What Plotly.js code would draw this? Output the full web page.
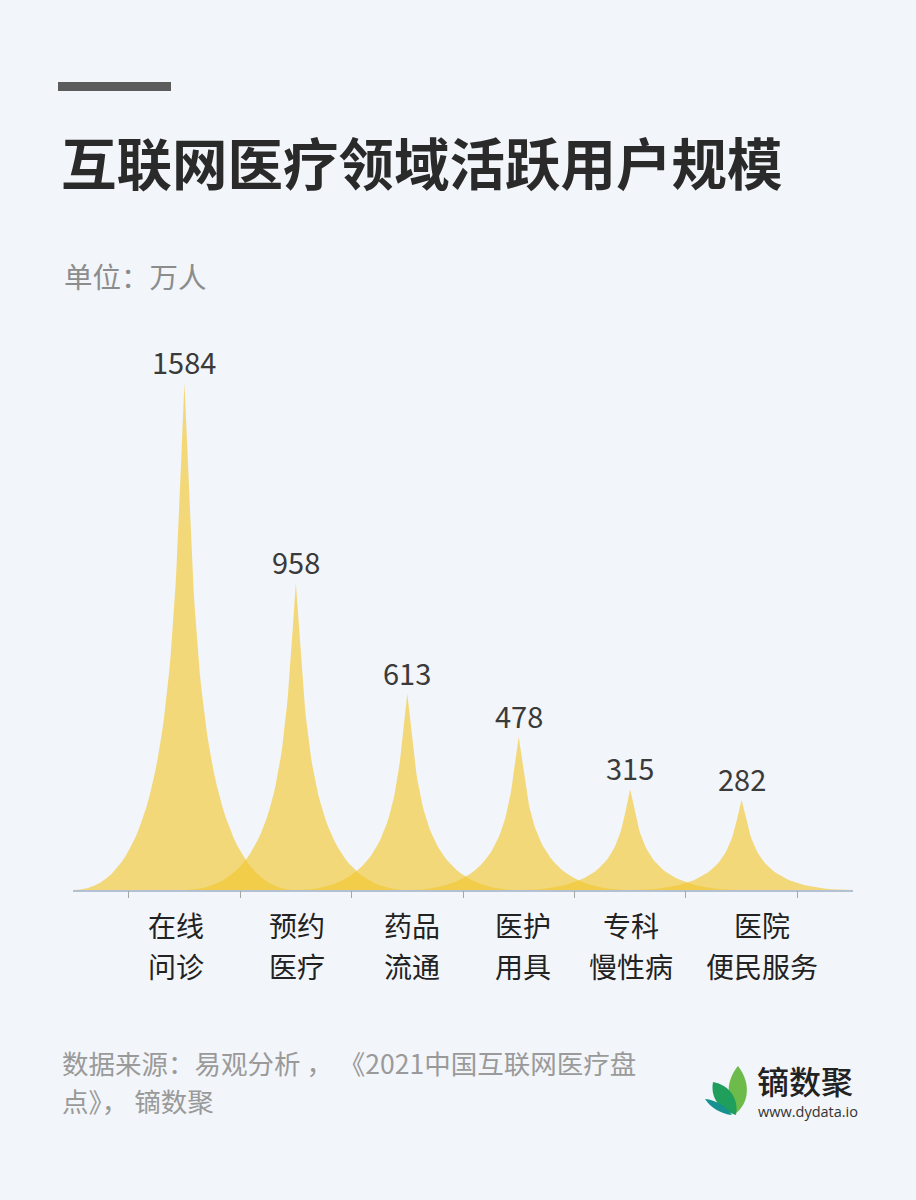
<!DOCTYPE html>
<html>
<head>
<meta charset="utf-8">
<script src="https://cdn.plot.ly/plotly-3.0.1.min.js"></script>
<style>
html,body{margin:0;padding:0;background:#F2F5F9;}
#chart{width:916px;height:1200px;}
</style>
</head>
<body>
<div id="chart"></div>
<script>
// ---- data ----
const categories = ["在线问诊", "预约医疗", "药品流通", "医护用具", "专科慢性病", "医院便民服务"];
const labelLine1 = ["在线", "预约", "药品", "医护", "专科", "医院"];
const labelLine2 = ["问诊", "医疗", "流通", "用具", "慢性病", "便民服务"];
const users = [1584, 958, 613, 478, 315, 282];

const titleText = "互联网医疗领域活跃用户规模";
const unitText = "单位：万人";
const sourceLine1 = "数据来源：易观分析 ， 《2021中国互联网医疗盘";
const sourceLine2 = "点》， 镝数聚";

// ---- layout geometry ----
const W = 916, H = 1200;
const M = {l: 73, r: 63, t: 345, b: 310};
const PW = W - M.l - M.r, PH = H - M.t - M.b;
function px(x){ return (x - M.l) / PW; }
function py(y){ return (H - M.b - y) / PH; }

const FONT = '"Noto Sans CJK SC", "Noto Sans", sans-serif';
const FILL = 'rgba(243,198,48,0.64)';
const labelNudge = [-8, 1, 5, 4, 1, 20];   // horizontal pixel nudge of category labels

// spike shape: cubic bezier (ECharts-style spike), half width = 1 category
function spike(center, value){
  const n = 40, half = 1.0;
  const xs = [], ys = [];
  const pts = [];
  for (let i = 0; i <= n; i++){
    const t = i / n;
    const xn = 2.7 * t * (1 - t) + t * t * t;
    const yn = Math.pow(1 - t, 3) + 3 * Math.pow(1 - t, 2) * t + 1.5 * (1 - t) * t * t;
    pts.push([1 - xn, 1 - yn]);
  }
  for (let i = 0; i <= n; i++){ xs.push(center - half * pts[i][0]); ys.push(value * pts[i][1]); }
  for (let i = n; i >= 0; i--){ xs.push(center + half * pts[i][0]); ys.push(value * pts[i][1]); }
  return {xs, ys};
}

const traces = users.map((v, i) => {
  const s = spike(i, v);
  return {
    type: 'scatter', mode: 'lines', x: s.xs, y: s.ys,
    fill: 'toself', fillcolor: FILL, line: {width: 0, color: FILL},
    hoverinfo: 'skip', showlegend: false, name: categories[i]
  };
});

traces.push({type:'scatter', x:[0], y:[0], xaxis:'x2', yaxis:'y', mode:'markers',
  marker:{opacity:0}, showlegend:false, hoverinfo:'skip'});

const annotations = [];
users.forEach((v, i) => {
  annotations.push({x: i, y: v, xref: 'x', yref: 'y', text: String(v), showarrow: false,
    yanchor: 'bottom', yshift: -1, font: {family: FONT, size: 29, color: '#3a3a3a'}});
});
categories.forEach((c, i) => {
  annotations.push({x: i, y: py(925), xref: 'x', yref: 'paper', text: labelLine1[i], showarrow: false,
    xshift: labelNudge[i], yanchor: 'middle', font: {family: FONT, size: 28, color: '#222'}});
  annotations.push({x: i, y: py(966), xref: 'x', yref: 'paper', text: labelLine2[i], showarrow: false,
    xshift: labelNudge[i], yanchor: 'middle', font: {family: FONT, size: 28, color: '#222'}});
});
annotations.push({x: px(59), y: py(161), xref: 'paper', yref: 'paper', xanchor: 'left', yanchor: 'middle',
  text: titleText, showarrow: false, font: {family: FONT, size: 55.5, color: '#2a2a2a', weight: 'bold'}});
annotations.push({x: px(62), y: py(275), xref: 'paper', yref: 'paper', xanchor: 'left', yanchor: 'middle',
  text: unitText, showarrow: false, font: {family: FONT, size: 28.5, color: '#8c8c8c'}});
annotations.push({x: px(60), y: py(1062), xref: 'paper', yref: 'paper', xanchor: 'left', yanchor: 'middle',
  text: sourceLine1, showarrow: false, font: {family: FONT, size: 26.5, color: '#9a9a9a'}});
annotations.push({x: px(60), y: py(1100), xref: 'paper', yref: 'paper', xanchor: 'left', yanchor: 'middle',
  text: sourceLine2, showarrow: false, font: {family: FONT, size: 26.5, color: '#9a9a9a'}});
annotations.push({x: px(755), y: py(1080), xref: 'paper', yref: 'paper', xanchor: 'left', yanchor: 'middle',
  text: '镝数聚', showarrow: false, font: {family: FONT, size: 32, color: '#222', weight: 500}});
annotations.push({x: px(756), y: py(1111), xref: 'paper', yref: 'paper', xanchor: 'left', yanchor: 'middle',
  text: 'www.dydata.io', showarrow: false, font: {family: '"Open Sans", sans-serif', size: 14.5, color: '#333'}});

function flip(p){ return p.replace(/(-?\d+) (-?\d+)/g, (m,a,b)=>a+' '+(55-b)); }
const shapes = [
  {type: 'rect', xref: 'paper', yref: 'paper', x0: px(58), x1: px(171), y0: py(82), y1: py(91),
   fillcolor: '#5c5c5c', line: {width: 0}},
  {type: 'path', xref: 'paper', yref: 'paper', xsizemode: 'pixel', ysizemode: 'pixel',
   xanchor: px(700), yanchor: py(1115),
   path: flip('M 38 6 C 28 18, 24 36, 36 53 C 48 44, 52 24, 38 6 Z'),
   fillcolor: '#6dbb4a', line: {width: 0}},
  {type: 'path', xref: 'paper', yref: 'paper', xsizemode: 'pixel', ysizemode: 'pixel',
   xanchor: px(700), yanchor: py(1115),
   path: flip('M 13 22 C 10 38, 20 50, 36 55 C 39 38, 29 25, 13 22 Z'),
   fillcolor: '#1f9e5c', line: {width: 0}},
  {type: 'path', xref: 'paper', yref: 'paper', xsizemode: 'pixel', ysizemode: 'pixel',
   xanchor: px(700), yanchor: py(1115),
   path: flip('M 5 39 C 11 48, 21 54, 32 55 C 26 46, 16 40, 5 39 Z'),
   fillcolor: '#17918f', line: {width: 0}}
];

const layout = {
  width: W, height: H,
  margin: M,
  paper_bgcolor: '#F2F5F9', plot_bgcolor: 'rgba(0,0,0,0)',
  showlegend: false,
  xaxis: {range: [-1, 6], showgrid: false, zeroline: false, showticklabels: false, ticks: '',
          showline: true, linecolor: '#b4c0d4', linewidth: 1.5, fixedrange: true},
  xaxis2: {range: [-1, 6], overlaying: 'x', anchor: 'y', side: 'bottom', showgrid: false, zeroline: false,
           tickvals: [-0.5, 0.5, 1.5, 2.5, 3.5, 4.5, 5.5], showticklabels: false, ticks: 'outside',
           ticklen: 7, tickwidth: 1, tickcolor: '#a6a6a6', showline: false},
  yaxis: {range: [0, 1702], visible: false, fixedrange: true},
  annotations, shapes
};

Plotly.newPlot('chart', traces, layout, {displayModeBar: false, staticPlot: true});
</script>
</body>
</html>
